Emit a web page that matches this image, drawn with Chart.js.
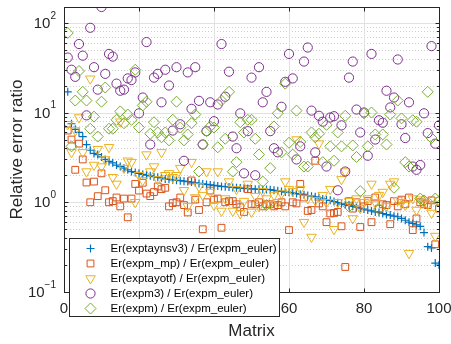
<!DOCTYPE html>
<html>
<head>
<meta charset="utf-8">
<script src="https://cdn.jsdelivr.net/npm/chart.js@4.4.1/dist/chart.umd.min.js"></script>
<style>
html, body { margin: 0; padding: 0; background: #fff; }
#wrap { width: 451px; height: 344px; }
</style>
</head>
<body>
<div id="wrap"><canvas id="errChart" width="451" height="344"></canvas></div>
<script>
// legend texts, one per series
const seriesLabels = [
    'Er(exptaynsv3) / Er(expm_euler)',
    'Er(expm_mp) / Er(expm_euler)',
    'Er(exptayotf) / Er(expm_euler)',
    'Er(expm3) / Er(expm_euler)',
    'Er(expm) / Er(expm_euler)'
];

const xTicks = [0, 20, 40, 60, 80, 100];
const yTickExps = [-1, 0, 1, 2];

// error ratios per matrix (1..100)
const taynsv3 = [17, 7.5, 6.5, 6.0, 5.4, 4.4, 3.8, 3.5, 3.4, 3.2,
    3.0, 2.85, 2.75, 2.6, 2.5, 2.4, 2.3, 2.2, 2.15, 2.1,
    2.05, 2.0, 1.97, 1.93, 1.9, 1.87, 1.82, 1.8, 1.78, 1.76,
    1.74, 1.72, 1.7, 1.68, 1.65, 1.62, 1.6, 1.58, 1.56, 1.54,
    1.52, 1.5, 1.49, 1.48, 1.46, 1.45, 1.44, 1.43, 1.42, 1.41,
    1.40, 1.40, 1.39, 1.39, 1.38, 1.36, 1.34, 1.32, 1.30, 1.29,
    1.27, 1.25, 1.23, 1.21, 1.19, 1.17, 1.15, 1.12, 1.09, 1.07,
    1.05, 1.02, 0.99, 0.96, 0.94, 0.92, 0.90, 0.88, 0.86, 0.84,
    0.82, 0.80, 0.78, 0.77, 0.75, 0.73, 0.72, 0.70, 0.69, 0.66,
    0.63, 0.60, 0.58, 0.56, 0.54, 0.46, 0.32, 0.31, 0.21, 0.20];

const expmMp = [6.3, 5.0, 2.3, 4.5, 3.0, 1.66, 1.0, 1.7, 1.17, 2.1,
    1.36, 1.0, 1.03, 1.13, 0.9, 1.1, 0.68, 1.1, 1.6, 1.35,
    1.65, 1.25, 1.17, 1.3, 1.5, 1.4, 1.45, 0.9, 0.98, 1.0,
    1.13, 0.93, 0.77, 1.75, 1.07, 0.82, 0.5, 1.0, 1.35, 1.07,
    1.1, 0.52, 1.0, 1.03, 1.03, 0.95, 0.88, 0.78, 1.4, 0.95,
    0.95, 1.0, 0.9, 0.95, 0.95, 0.9, 0.93, 1.0, 0.9, 0.49,
    1.0, 0.97, 1.6, 1.13, 0.8, 0.82, 2.9, 0.97, 0.9, 0.6,
    0.75, 0.76, 0.78, 0.54, 0.19, 1.03, 0.85, 1.0, 0.53, 0.9,
    1.03, 0.6, 1.13, 0.85, 0.95, 0.93, 0.57, 1.03, 0.9, 1.07,
    0.95, 1.13, 0.49, 0.66, 1.0, 0.95, 0.93, 1.05, 0.34, 0.85];

const exptayotf = [7.4, 3.6, 6.3, 8.8, 3.6, 2.2, 23.8, 2.6, 3.9, 2.5,
    3.0, 4.1, 1.9, 1.6, 7.9, 2.4, 2.9, 2.8, 1.0, 2.0,
    1.75, 3.4, 2.2, 2.5, 1.8, 3.6, 2.0, 2.1, 1.9, 2.0,
    2.4, 1.36, 0.9, 2.8, 1.13, 1.5, 1.2, 2.2, 1.3, 0.93,
    2.2, 0.8, 1.1, 1.7, 0.8, 1.4, 0.75, 1.03, 1.6, 0.78,
    1.17, 0.9, 1.33, 1.1, 0.95, 1.2, 1.0, 1.25, 1.7, 1.4,
    1.33, 5.0, 1.4, 0.6, 1.1, 0.41, 1.05, 4.5, 1.2, 1.0,
    1.4, 0.5, 1.0, 1.8, 2.2, 1.03, 0.66, 1.1, 0.86, 1.0,
    1.1, 1.6, 1.0, 1.2, 1.3, 0.9, 1.6, 1.7, 1.05, 1.0,
    0.93, 0.27, 1.1, 0.82, 1.07, 1.0, 0.95, 0.76, 0.42, 1.05];

const expm3 = [41, 30, 25, 58, 43, 9.3, 88, 32, 18, 150,
    27, 45, 42, 21, 17.5, 18, 24, 23, 28, 9.8,
    14.7, 61, 4.4, 24.5, 27, 13, 30, 20, 6.3, 32,
    7.4, 2.9, 28, 11, 32, 13.5, 4.4, 6.2, 13, 8.0,
    12.3, 58, 15, 28.5, 5.4, 4.0, 9.8, 2.1, 6.2, 24.5,
    2.0, 32, 13, 17, 6.2, 4.0, 3.6, 11.6, 22, 45,
    24, 3.0, 4.2, 37, 53, 10.5, 3.6, 9.2, 7.9, 2.5,
    8.8, 9.1, 1.36, 7.2, 2.2, 24.5, 37, 10.8, 6.0, 10,
    3.3, 45, 5.0, 8.2, 7.7, 17.5, 11.4, 14.7, 39, 7.4,
    5.2, 13, 2.5, 2.3, 2.6, 9.8, 5.9, 55, 4.5, 7.2];

const expm = [77, 4.2, 13.6, 29, 17, 13.6, 6.6, 9.0, 5.4, 13.2,
    19, 6.6, 6.6, 8.3, 10.3, 7.6, 9.5, 8.3, 30, 6.8,
    12, 13.2, 5.8, 7.8, 6.0, 5.3, 6.0, 4.9, 8.3, 13.2,
    6.8, 4.9, 5.7, 7.6, 9.5, 2.2, 4.4, 6.2, 7.0, 6.8,
    4.1, 13.6, 5.1, 17, 2.2, 2.8, 7.8, 6.0, 8.3, 8.3,
    5.1, 3.4, 1.7, 0.93, 2.4, 7.0, 9.8, 3.6, 21, 4.6,
    3.4, 10.5, 4.7, 2.5, 2.5, 6.0, 5.3, 5.8, 2.8, 7.3,
    4.2, 2.9, 6.0, 4.2, 9.2, 0.9, 4.3, 3.2, 1.33, 9.8,
    4.2, 10, 5.7, 0.84, 5.7, 4.4, 9.5, 1.45, 13.6, 8.6,
    2.8, 2.5, 8.2, 7.9, 1.1, 1.05, 17, 5.2, 1.1, 1.03];

const matrixIds = taynsv3.map((_, i) => i + 1);

const textColor = '#262626';
const fontFamily = '"Liberation Sans", Arial, Helvetica, sans-serif';

function toPoints(vals) {
    return vals.map((v, i) => ({ x: matrixIds[i], y: v }));
}

const seriesStyles = [
    { data: taynsv3, color: '#0072BD', pointStyle: 'cross', radius: 4, rotation: 0, width: 1.2, order: 5 },
    { data: expmMp, color: '#D95319', pointStyle: 'rect', radius: 4.8, rotation: 0, width: 1, order: 4 },
    { data: exptayotf, color: '#EDB120', pointStyle: 'triangle', radius: 5.5, rotation: 180, width: 1, order: 3 },
    { data: expm3, color: '#7E2F8E', pointStyle: 'circle', radius: 4.6, rotation: 0, width: 1, order: 2 },
    { data: expm, color: '#77AC30', pointStyle: 'rectRot', radius: 5.5, rotation: 0, width: 1, order: 1 }
];

function drawMarker(ctx, s, x, y) {
    ctx.save();
    ctx.strokeStyle = s.color;
    ctx.fillStyle = 'rgba(0,0,0,0)';
    ctx.lineWidth = s.width;
    Chart.helpers.drawPoint(ctx, {
        pointStyle: s.pointStyle,
        radius: s.radius,
        rotation: s.rotation,
        borderWidth: s.width
    }, x, y);
    ctx.restore();
}

const matlabAxes = {
    id: 'matlabAxes',
    beforeDatasetsDraw(chart) {
        const { ctx, chartArea: a, scales: { x, y } } = chart;
        ctx.save();
        // minor dotted grid
        ctx.strokeStyle = '#cfcfcf';
        ctx.lineWidth = 1;
        ctx.setLineDash([1, 2]);
        for (let e = -1; e <= 2; e++) {
            for (let m = 2; m <= 9; m++) {
                const v = m * Math.pow(10, e);
                if (v >= y.max) continue;
                const py = Math.round(y.getPixelForValue(v)) + 0.5;
                ctx.beginPath();
                ctx.moveTo(a.left, py);
                ctx.lineTo(a.right, py);
                ctx.stroke();
            }
        }
        // major solid grid
        ctx.setLineDash([]);
        ctx.strokeStyle = '#e1e1e1';
        yTickExps.forEach(e => {
            const py = Math.round(y.getPixelForValue(Math.pow(10, e))) + 0.5;
            ctx.beginPath();
            ctx.moveTo(a.left, py);
            ctx.lineTo(a.right, py);
            ctx.stroke();
        });
        xTicks.forEach(t => {
            const px = Math.round(x.getPixelForValue(t)) + 0.5;
            ctx.beginPath();
            ctx.moveTo(px, a.top);
            ctx.lineTo(px, a.bottom);
            ctx.stroke();
        });
        ctx.restore();
    },
    afterDraw(chart) {
        const { ctx, chartArea: a, scales: { x, y } } = chart;
        ctx.save();
        ctx.strokeStyle = textColor;
        ctx.lineWidth = 1;
        const L = Math.round(a.left) + 0.5, R = Math.round(a.right) + 0.5;
        const T = Math.round(a.top) + 0.5, B = Math.round(a.bottom) + 0.5;
        ctx.strokeRect(L, T, R - L, B - T);

        // inward tick marks
        ctx.beginPath();
        xTicks.forEach(t => {
            const px = Math.round(x.getPixelForValue(t)) + 0.5;
            ctx.moveTo(px, B); ctx.lineTo(px, B - 4);
            ctx.moveTo(px, T); ctx.lineTo(px, T + 4);
        });
        for (let e = -1; e <= 2; e++) {
            for (let m = 1; m <= 9; m++) {
                const v = m * Math.pow(10, e);
                if (v > y.max) continue;
                const py = Math.round(y.getPixelForValue(v)) + 0.5;
                const len = m === 1 ? 4 : 2.5;
                ctx.moveTo(L, py); ctx.lineTo(L + len, py);
                ctx.moveTo(R, py); ctx.lineTo(R - len, py);
            }
        }
        ctx.stroke();

        // y tick labels as 10 with superscript exponent
        ctx.fillStyle = textColor;
        ctx.textBaseline = 'middle';
        yTickExps.forEach(e => {
            const py = y.getPixelForValue(Math.pow(10, e));
            const exp = e < 0 ? '\u2212' + Math.abs(e) : String(e);
            ctx.font = '10px ' + fontFamily;
            const ew = ctx.measureText(exp).width;
            const ex = a.left - 8 - ew;
            ctx.textAlign = 'left';
            ctx.fillText(exp, ex, py - 7);
            ctx.font = '15px ' + fontFamily;
            ctx.textAlign = 'right';
            ctx.fillText('10', ex, py + 1);
        });

        // legend box in the lower left corner
        const lx = Math.round(a.left) + 5.5, ly = Math.round(a.bottom) - 53.5;
        const lw = 210, lh = 78;
        ctx.fillStyle = '#fff';
        ctx.fillRect(lx, ly, lw, lh);
        ctx.strokeStyle = textColor;
        ctx.strokeRect(lx, ly, lw, lh);
        ctx.font = '11.5px ' + fontFamily;
        ctx.textAlign = 'left';
        ctx.textBaseline = 'middle';
        seriesStyles.forEach((s, i) => {
            const ry = ly + 10 + i * 15;
            drawMarker(ctx, s, lx + 21, ry);
            ctx.fillStyle = '#000';
            ctx.fillText(seriesLabels[i], lx + 41, ry + 0.5);
        });
        ctx.restore();
    }
};

new Chart(document.getElementById('errChart').getContext('2d'), {
    type: 'scatter',
    data: {
        datasets: seriesStyles.map((s, i) => ({
            label: seriesLabels[i],
            data: toPoints(s.data),
            showLine: false,
            pointStyle: s.pointStyle,
            pointRadius: s.radius,
            pointHoverRadius: s.radius,
            pointRotation: s.rotation,
            pointBorderColor: s.color,
            pointBackgroundColor: 'rgba(0,0,0,0)',
            pointBorderWidth: s.width,
            order: s.order
        }))
    },
    options: {
        responsive: false,
        animation: false,
        events: [],
        layout: { padding: { top: 7, right: 12, left: 0, bottom: 0 } },
        plugins: {
            legend: { display: false },
            tooltip: { enabled: false }
        },
        scales: {
            x: {
                type: 'linear',
                min: 0,
                max: 100,
                afterBuildTicks: s => { s.ticks = xTicks.map(v => ({ value: v })); },
                grid: { display: false, drawTicks: false },
                border: { display: false },
                ticks: {
                    color: textColor,
                    padding: 8,
                    maxRotation: 0,
                    font: { family: fontFamily, size: 15 }
                },
                title: {
                    display: true,
                    text: 'Matrix',
                    color: textColor,
                    padding: { top: 0, bottom: 2 },
                    font: { family: fontFamily, size: 17 }
                },
                afterFit: s => { s.height = 52; s.paddingLeft = 0; s.paddingRight = 0; }
            },
            y: {
                type: 'logarithmic',
                min: 0.1,
                max: 150,
                grid: { display: false, drawTicks: false },
                border: { display: false },
                ticks: { display: false },
                title: {
                    display: true,
                    text: 'Relative error ratio',
                    color: textColor,
                    padding: { top: 7, bottom: 0 },
                    font: { family: fontFamily, size: 17 }
                },
                afterFit: s => { s.width = 64; }
            }
        }
    },
    plugins: [matlabAxes]
});
</script>
</body>
</html>
